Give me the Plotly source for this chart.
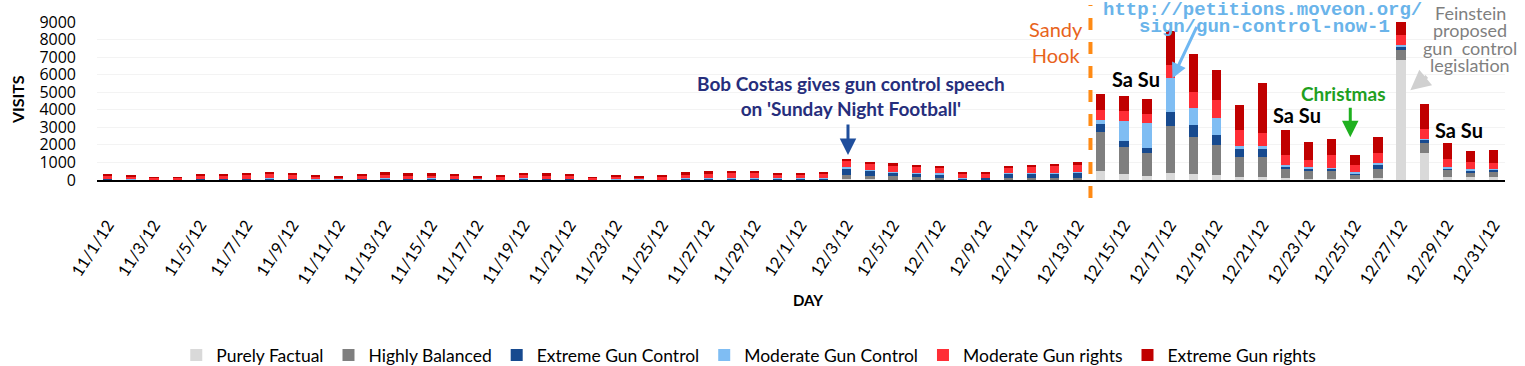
import plotly.graph_objects as go

# ---------------- data ----------------
days = ["11/%d/12" % d for d in range(1, 31)] + ["12/%d/12" % d for d in range(1, 32)]

purely_factual = [5, 5, 0, 0, 5, 5, 5, 5, 5, 0, 0, 5, 5, 5, 5, 5, 0, 0, 5, 5,
                  5, 0, 0, 0, 0, 5, 5, 5, 5, 5,
                  5, 5, 40, 30, 20, 15, 15, 5, 5, 15, 15, 15, 20,
                  530, 340, 230, 420, 360, 290, 190, 150, 110, 60, 60, 40, 110, 6820, 1560, 190, 150, 150]
highly_balanced = [15, 10, 10, 10, 15, 15, 20, 20, 15, 10, 10, 15, 20, 15, 15, 15, 10, 10, 20, 15,
                   15, 10, 10, 10, 10, 20, 25, 25, 25, 20,
                   20, 25, 260, 200, 180, 140, 120, 30, 30, 110, 110, 110, 120,
                   2190, 1560, 1280, 2670, 2080, 1730, 1140, 1180, 530, 480, 440, 270, 530, 570, 530, 380, 300, 320]
extreme_gun_control = [45, 35, 15, 10, 40, 40, 45, 40, 40, 20, 15, 40, 60, 45, 40, 40, 15, 10, 60, 45,
                       40, 10, 20, 15, 10, 70, 80, 80, 80, 60,
                       70, 80, 340, 300, 230, 210, 200, 70, 80, 220, 230, 250, 270,
                       480, 340, 300, 760, 720, 550, 460, 420, 150, 110, 130, 80, 270, 230, 190, 110, 100, 110]
moderate_gun_control = [5, 5, 5, 5, 10, 15, 10, 40, 10, 5, 5, 10, 25, 15, 30, 10, 5, 5, 15, 10,
                        10, 5, 5, 5, 5, 15, 20, 20, 20, 15,
                        15, 20, 80, 60, 50, 50, 50, 20, 20, 40, 50, 50, 70,
                        190, 1140, 1430, 1960, 970, 950, 170, 210, 80, 80, 80, 40, 80, 80, 80, 60, 60, 60]
moderate_gun_rights = [180, 165, 90, 95, 190, 175, 200, 230, 190, 160, 130, 190, 220, 195, 190, 190, 140, 175, 210, 200,
                       185, 100, 160, 140, 170, 220, 240, 250, 245, 200,
                       210, 220, 340, 330, 300, 300, 290, 270, 260, 310, 340, 360, 370,
                       610, 550, 530, 760, 900, 1010, 900, 740, 570, 420, 720, 440, 570, 550, 550, 480, 440, 340]
extreme_gun_rights = [80, 60, 40, 30, 100, 90, 120, 145, 130, 75, 50, 100, 110, 105, 100, 100, 60, 30, 110, 105,
                      85, 45, 75, 60, 35, 110, 130, 120, 125, 100,
                      100, 110, 150, 130, 200, 165, 145, 85, 85, 125, 135, 155, 160,
                      900, 840, 840, 1900, 2170, 1730, 1430, 2840, 1410, 1010, 880, 570, 910, 750, 1410, 880, 630, 720]

series_names = ["Purely Factual", "Highly Balanced", "Extreme Gun Control",
                "Moderate Gun Control", "Moderate Gun rights", "Extreme Gun rights"]
series_values = [purely_factual, highly_balanced, extreme_gun_control,
                 moderate_gun_control, moderate_gun_rights, extreme_gun_rights]
series_colors = ["#D9D9D9", "#7F7F7F", "#174A8F", "#7FBDF3", "#FF2E36", "#C00000"]

tick_labels = days[::2]

FONT = "Lato"

# ---------------- figure ----------------
x_idx = list(range(len(days)))
fig = go.Figure()
for name, vals, col in zip(series_names, series_values, series_colors):
    fig.add_trace(go.Bar(x=x_idx, y=vals, name=name, marker=dict(color=col, line=dict(width=0)),
                         width=0.4, hovertext=days))

fig.update_layout(
    width=1525, height=366,
    margin=dict(l=97, r=20, t=22, b=186, autoexpand=False),
    barmode="stack",
    plot_bgcolor="white", paper_bgcolor="white",
    font=dict(family=FONT, color="black"),
    showlegend=True,
    legend=dict(orientation="h", xref="container", yref="container",
                x=0.491, xanchor="center", y=0.030, yanchor="middle",
                font=dict(size=17.5, family=FONT), traceorder="normal", itemwidth=30),
)
fig.update_xaxes(
    range=[-0.47, 60.5], tickmode="array", tickvals=x_idx[::2], ticktext=tick_labels,
    tickangle=-57, tickfont=dict(size=16.5, family=FONT), ticks="", ticklabelstandoff=27,
    showline=True, linecolor="black", linewidth=2, showgrid=False, zeroline=False,
)
fig.update_yaxes(
    range=[0, 9000], dtick=1000, tickfont=dict(size=16, family="Open Sans"), ticks="",
    ticklabelstandoff=20, showline=False, showgrid=True, gridcolor="#F3F3F3", zeroline=False,
)

# Sandy Hook dashed line
fig.add_shape(type="line", xref="x", yref="paper", x0=42.55, x1=42.55, y0=-0.114, y1=1.108,
              line=dict(color="#FF8A14", width=4, dash="dash"))

C = dict(xanchor="center", yanchor="middle")
anns = []
# axis titles
anns.append(dict(text="<b>DAY</b>", xref="paper", yref="paper", x=0.505, y=-0.759,
                 showarrow=False, font=dict(size=15), **C))
anns.append(dict(text="<b>VISITS</b>", xref="paper", yref="paper", x=-0.0568, y=0.506,
                 showarrow=False, textangle=-90, font=dict(size=16), **C))
# Bob Costas
anns.append(dict(text="<b>Bob Costas gives gun control speech<br>on 'Sunday Night Football'</b>",
                 x=32.2, y=4770, showarrow=False, font=dict(size=19, color="#262E7C"), **C))
anns.append(dict(text="", x=32.05, y=1420, ax=0, ay=-32, showarrow=True, arrowhead=2,
                 arrowsize=1.1, arrowwidth=3, arrowcolor="#1F4E9C"))
# Sandy Hook
anns.append(dict(text="Sandy<br>Hook", x=41.05, y=7840, showarrow=False,
                 font=dict(size=20, color="#E8631C"), **C))
# petition
anns.append(dict(text="<b>http://petitions.moveon.org/</b>", x=50.0, yref="paper", y=1.076,
                 showarrow=False, font=dict(size=19, family="Liberation Mono", color="#6AB4EA"), **C))
anns.append(dict(text="<b>sign/gun-control-now-1</b>", x=50.1, yref="paper", y=0.968,
                 showarrow=False, font=dict(size=19, family="Liberation Mono", color="#6AB4EA"), **C))
anns.append(dict(text="", x=46.1, y=5795, ax=25, ay=-53, showarrow=True, arrowhead=2,
                 arrowsize=1.0, arrowwidth=3, arrowcolor="#6FB7F2"))
# Sa Su
for xx, yy in [(44.5, 5740), (51.5, 3690), (58.5, 2840)]:
    anns.append(dict(text="<b>Sa Su</b>", x=xx, y=yy, showarrow=False,
                     font=dict(size=20, color="black"), **C))
# Christmas
anns.append(dict(text="<b>Christmas</b>", x=53.5, y=4940, showarrow=False,
                 font=dict(size=19, color="#1FA01F"), **C))
anns.append(dict(text="", x=53.8, y=2440, ax=0, ay=-31, showarrow=True, arrowhead=2,
                 arrowsize=1.1, arrowwidth=3, arrowcolor="#1FB01F"))
# Feinstein
for txt, yy in [("Feinstein", 1.057), ("proposed", 0.949), ("gun  control", 0.835), ("legislation", 0.728)]:
    anns.append(dict(text=txt, x=59.0, yref="paper", y=yy, showarrow=False,
                     font=dict(size=18, color="#7F7F7F"), **C))
anns.append(dict(text="", x=56.4, y=5110, ax=18, ay=-15, showarrow=True, arrowhead=2,
                 arrowsize=1.0, arrowwidth=4, arrowcolor="#D0D0D0"))

fig.update_layout(annotations=anns)

fig.write_html("out.html", config={"displayModeBar": False},
               post_script="document.body.style.margin='0';")
